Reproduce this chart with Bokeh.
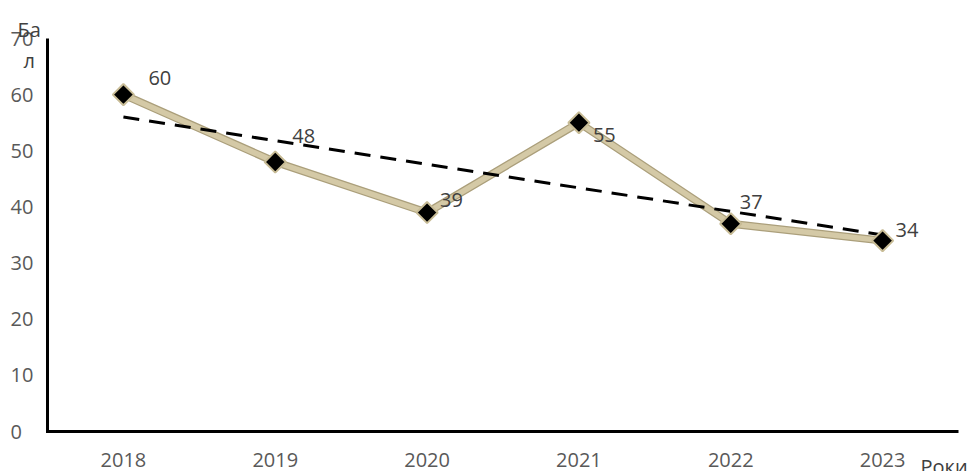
import numpy as np
from bokeh.plotting import figure
from bokeh.models import Range1d
from bokeh.core.properties import value
from bokeh.embed import file_html
from bokeh.resources import INLINE

years = ["2018", "2019", "2020", "2021", "2022", "2023"]
scores = [60, 48, 39, 55, 37, 34]
y_ticks = [0, 10, 20, 30, 40, 50, 60, 70]
y_tick_labels = [str(t) for t in y_ticks]
y_axis_title_parts = ["Ба", "л"]
x_axis_title = "Роки"

# label placement offsets (pixels), styling only
label_dx = [25, 17, 13, 14, 9, 13]
label_dy = [17, 26, 13, -12, 22, 11]

FONT = value("Open Sans")
W, H = 974, 471
LEFT, RIGHT, TOP, BOTTOM = 47, 958, 38, 431   # plot area in pixels
n = len(years)
xs = list(range(n))
y_max = y_ticks[-1]
ppx = (RIGHT - LEFT) / n
ppy = (BOTTOM - TOP) / y_max

p = figure(width=W, height=H,
           x_range=Range1d(-0.5 - LEFT / ppx, n - 0.5 + (W - RIGHT) / ppx),
           y_range=Range1d(-(H - BOTTOM) / ppy, y_max + TOP / ppy),
           output_backend="svg", toolbar_location=None,
           min_border=0)
p.outline_line_color = None
p.grid.visible = False
p.axis.visible = False
p.background_fill_color = "white"

# axes lines
p.line([-0.5, -0.5, n - 0.5], [y_max, 0, 0], line_color="black", line_width=3, line_join="miter")

# series line (outline + fill)
p.line(xs, scores, line_color="#ab9f7b", line_width=8)
p.line(xs, scores, line_color="#d4c9a6", line_width=5.5)

# linear trend line
coef = np.polyfit(xs, scores, 1)
trend = np.polyval(coef, [0, n - 1])
p.line([0, n - 1], list(trend), line_color="black", line_width=3, line_dash="16 10")

# markers
p.scatter(xs, scores, marker="square", size=15, angle=np.pi / 4,
          fill_color="black", line_color="#c8bc96", line_width=2)

# data labels
p.text(x=xs, y=scores, text=[str(v) for v in scores], x_offset=label_dx,
       y_offset=[-d for d in label_dy],
       text_align="left", text_baseline="middle",
       text_font=FONT, text_font_size="20px", text_color="#404040")

# y tick labels (left aligned)
p.text(x=[-0.5] * len(y_ticks), y=y_ticks, text=y_tick_labels, x_offset=-37,
       text_align="left", text_baseline="middle",
       text_font=FONT, text_font_size="20px", text_color="#595959")

# x tick labels
p.text(x=xs, y=[0] * n, text=years, y_offset=21,
       text_align="center", text_baseline="top",
       text_font=FONT, text_font_size="20px", text_color="#595959")

# axis titles
p.text(x=[-0.5], y=[y_max], text=[y_axis_title_parts[0]], x_offset=-30, y_offset=-23,
       text_align="left", text_baseline="top",
       text_font=FONT, text_font_size="20px", text_color="#404040")
p.text(x=[-0.5], y=[y_max], text=[y_axis_title_parts[1]], x_offset=-24, y_offset=8,
       text_align="left", text_baseline="top",
       text_font=FONT, text_font_size="20px", text_color="#404040")
p.text(x=[n - 0.5], y=[0], text=[x_axis_title], x_offset=-38, y_offset=21,
       text_align="left", text_baseline="top",
       text_font=FONT, text_font_size="20px", text_color="#404040")

open("out.html", "w").write(file_html(p, INLINE))
